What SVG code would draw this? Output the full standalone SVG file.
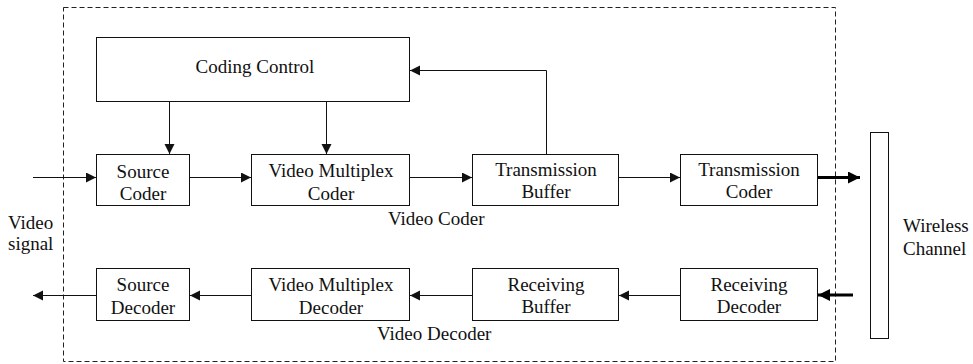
<svg xmlns="http://www.w3.org/2000/svg" width="973" height="364" viewBox="0 0 973 364">
<defs>
<style>
.box{fill:#fff;stroke:#111;stroke-width:1}
.t{font-family:'Liberation Serif',Tinos,'Times New Roman',Times,'DejaVu Serif',serif;font-size:19px;fill:#111}
.c{text-anchor:middle}
.ln{fill:none;stroke:#111;stroke-width:1}
.thick{fill:none;stroke:#000;stroke-width:3}
.frame{fill:none;stroke:#222;stroke-width:1;stroke-dasharray:5 3}
</style>
<marker id="ah" markerUnits="userSpaceOnUse" markerWidth="11" markerHeight="11" refX="10" refY="5" orient="auto">
<path d="M0,0 L10,5 L0,10 z" fill="#111"/>
</marker>
<marker id="ahb" markerUnits="userSpaceOnUse" markerWidth="14" markerHeight="14" refX="12" refY="6" orient="auto">
<path d="M0,0 L12,6 L0,12 z" fill="#000"/>
</marker>
</defs>
<rect class="frame" x="63.5" y="7.5" width="772" height="354"/>
<g id="coding-control">
<rect class="box" x="96.5" y="37.5" width="313" height="64"/>
<text class="t c" x="255" y="73">Coding Control</text>
</g>
<g id="source-coder">
<rect class="box" x="96.5" y="154.5" width="93" height="51"/>
<text class="t c" x="143" y="178">Source</text>
<text class="t c" x="143" y="200">Coder</text>
</g>
<g id="vm-coder">
<rect class="box" x="251.5" y="154.5" width="158" height="51"/>
<text class="t c" x="331" y="177">Video Multiplex</text>
<text class="t c" x="331" y="200">Coder</text>
</g>
<g id="tx-buffer">
<rect class="box" x="472.5" y="154.5" width="146" height="51"/>
<text class="t c" x="546" y="176">Transmission</text>
<text class="t c" x="546" y="198">Buffer</text>
</g>
<g id="tx-coder">
<rect class="box" x="680.5" y="154.5" width="137" height="51"/>
<text class="t c" x="749" y="176">Transmission</text>
<text class="t c" x="749" y="198">Coder</text>
</g>
<g id="source-decoder">
<rect class="box" x="96.5" y="268.5" width="93" height="52"/>
<text class="t c" x="143" y="291">Source</text>
<text class="t c" x="143" y="314">Decoder</text>
</g>
<g id="vm-decoder">
<rect class="box" x="251.5" y="268.5" width="158" height="52"/>
<text class="t c" x="331" y="291">Video Multiplex</text>
<text class="t c" x="331" y="314">Decoder</text>
</g>
<g id="rx-buffer">
<rect class="box" x="472.5" y="268.5" width="146" height="52"/>
<text class="t c" x="546" y="291">Receiving</text>
<text class="t c" x="546" y="313">Buffer</text>
</g>
<g id="rx-decoder">
<rect class="box" x="680.5" y="268.5" width="137" height="52"/>
<text class="t c" x="749" y="291">Receiving</text>
<text class="t c" x="749" y="313">Decoder</text>
</g>
<g id="channel">
<rect class="box" x="870.5" y="132.5" width="18" height="206"/>
<text class="t" x="903" y="232">Wireless</text>
<text class="t" x="903" y="255">Channel</text>
</g>
<g id="labels">
<text class="t" x="8" y="229">Video</text>
<text class="t" x="8" y="250">signal</text>
<text class="t" x="388" y="225">Video Coder</text>
<text class="t" x="377" y="340">Video Decoder</text>
</g>
<g id="connectors">
<path class="ln" d="M33,177.5 H96" marker-end="url(#ah)"/>
<path class="ln" d="M190,177.5 H251" marker-end="url(#ah)"/>
<path class="ln" d="M410,177.5 H472" marker-end="url(#ah)"/>
<path class="ln" d="M619,177.5 H680" marker-end="url(#ah)"/>
<path class="ln" d="M169.5,102 V154" marker-end="url(#ah)"/>
<path class="ln" d="M326.5,102 V154" marker-end="url(#ah)"/>
<path class="ln" d="M546.5,154 V70.5 H410" marker-end="url(#ah)"/>
<path class="thick" d="M818,177.5 H860" marker-end="url(#ahb)"/>
<path class="thick" d="M853,295 H818" marker-end="url(#ahb)"/>
<path class="ln" d="M680,295.5 H619" marker-end="url(#ah)"/>
<path class="ln" d="M472,295.5 H410" marker-end="url(#ah)"/>
<path class="ln" d="M251,295.5 H190" marker-end="url(#ah)"/>
<path class="ln" d="M96,295.5 H33" marker-end="url(#ah)"/>
</g>
</svg>
